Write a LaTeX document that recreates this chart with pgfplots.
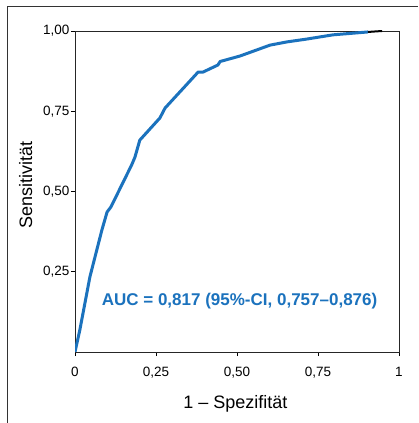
\documentclass[border=0pt]{standalone}
\usepackage{fontspec}
\setmainfont{Liberation Sans}
\usepackage{pgfplots}
\pgfplotsset{compat=1.18}
\definecolor{rocblue}{HTML}{1B72BD}
\begin{document}
\begin{tikzpicture}
\useasboundingbox (0pt,0pt) rectangle (418pt,423pt);
\draw[line width=1pt, black!80] (7.5pt,0pt) -- (7.5pt,416pt) -- (418pt,416pt);
\begin{axis}[
  at={(75pt,71pt)}, anchor=south west,
  width=324pt, height=321pt, scale only axis,
  xmin=0, xmax=1, ymin=0, ymax=1,
  xtick={0,0.25,0.5,0.75,1},
  xticklabels={0,{0,25},{0,50},{0,75},1},
  ytick={0.25,0.5,0.75,1},
  yticklabels={{0,25},{0,50},{0,75},{1,00}},
  xtick pos=left, ytick pos=left,
  tick align=outside, major tick length=4pt,
  tick style={black, line width=0.8pt},
  axis line style={black!85, line width=0.8pt},
  tick label style={font=\fontsize{13.5}{16}\selectfont},
  xticklabel style={yshift=-8pt},
  yticklabel style={xshift=2pt},
  xlabel={1 – Spezifität}, ylabel={Sensitivität},
  label style={font=\fontsize{18}{21}\selectfont},
  xlabel style={at={(axis description cs:0.495,-0.1745)}, anchor=base},
  ylabel style={at={(axis description cs:-0.1327,0.52)}, anchor=base},
]
\addplot[rocblue, line width=3pt, line join=round] coordinates {
  (0,0) (0.015,0.069) (0.046,0.234) (0.083,0.38) (0.099,0.436)
  (0.111,0.452) (0.175,0.583) (0.185,0.607) (0.2,0.66) (0.262,0.729)
  (0.278,0.76) (0.38,0.872) (0.395,0.872) (0.441,0.894) (0.448,0.905)
  (0.509,0.922) (0.602,0.956) (0.654,0.966) (0.716,0.975) (0.796,0.988)
  (0.904,0.997)
};
\addplot[black, line width=2pt] coordinates {(0.904,0.997) (0.948,1.0)};
\node[anchor=base, text=rocblue, font=\fontsize{17}{20}\selectfont\bfseries]
  at (axis cs:0.508,0.146) {AUC = 0,817 (95\%-CI, 0,757–0,876)};
\end{axis}
\end{tikzpicture}
\end{document}
